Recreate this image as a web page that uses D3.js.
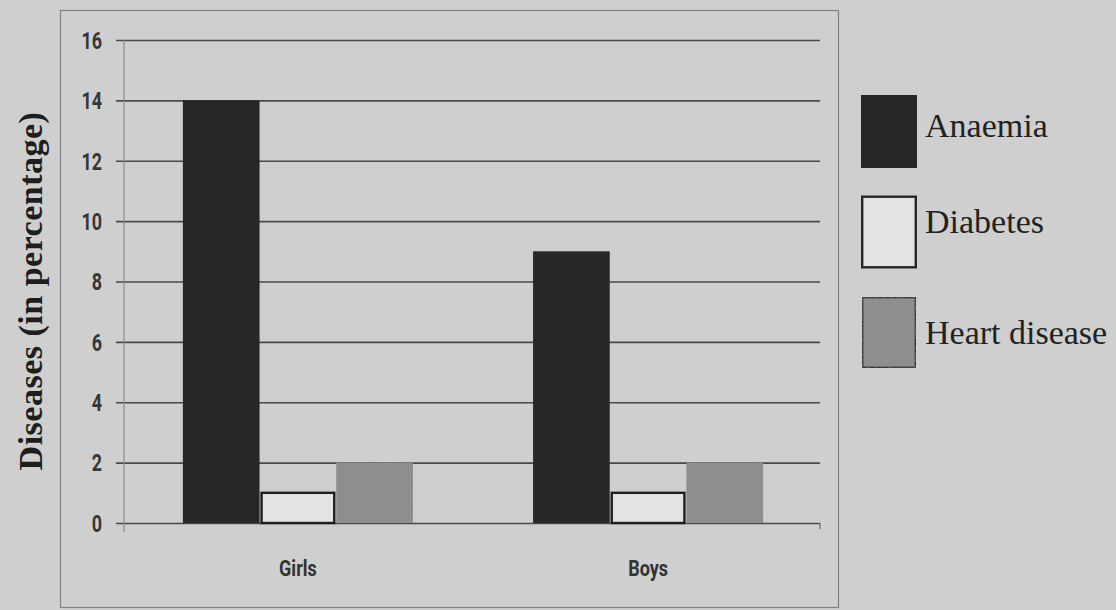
<!DOCTYPE html>
<html>
<head>
<meta charset="utf-8">
<script src="https://cdn.jsdelivr.net/npm/d3@7"></script>
<style>
  html, body { margin: 0; padding: 0; background: #cfcfcf; }
  svg { display: block; }
</style>
</head>
<body>
<svg id="chart" width="1116" height="610"></svg>
<script>
// ---- data ----
const categories = ["Girls", "Boys"];
const seriesNames = ["Anaemia", "Diabetes", "Heart disease"];
const anaemia = [14, 9];
const diabetes = [1, 1];
const heartDisease = [2, 2];
const yTicks = [0, 2, 4, 6, 8, 10, 12, 14, 16];
const yTitle = "Diseases (in percentage)";

const seriesValues = [anaemia, diabetes, heartDisease];
const table = categories.map((c, i) => ({
  category: c,
  values: seriesNames.map((s, j) => ({ series: s, value: seriesValues[j][i] }))
}));

// ---- styles ----
const fills = { "Anaemia": "#272727", "Diabetes": "#e3e3e3", "Heart disease": "#8d8d8d" };
const strokes = { "Anaemia": "none", "Diabetes": "#1e1e1e", "Heart disease": "none" };

const svg = d3.select("#chart");
const W = 1116, H = 610;

// background
svg.append("rect").attr("width", W).attr("height", H).attr("fill", "#cfcfcf");

// speckle filter for heart disease
const defs = svg.append("defs");
const f = defs.append("filter").attr("id", "speckle").attr("x", 0).attr("y", 0).attr("width", 1).attr("height", 1);
f.append("feTurbulence").attr("type", "fractalNoise").attr("baseFrequency", 0.9).attr("numOctaves", 1).attr("seed", 3).attr("result", "noise");
f.append("feColorMatrix").attr("in", "noise").attr("type", "matrix")
  .attr("values", "0 0 0 0 0.3  0 0 0 0 0.3  0 0 0 0 0.3  0 0 0 1.2 -0.45").attr("result", "dots");
f.append("feComposite").attr("in", "dots").attr("in2", "SourceGraphic").attr("operator", "in").attr("result", "dots2");
const fm = f.append("feMerge");
fm.append("feMergeNode").attr("in", "SourceGraphic");
fm.append("feMergeNode").attr("in", "dots2");

// outer chart frame
svg.append("rect")
  .attr("x", 60.5).attr("y", 10.5).attr("width", 778).attr("height", 597)
  .attr("fill", "none").attr("stroke", "#808080").attr("stroke-width", 1.2);

// scales
const x0 = d3.scaleBand().domain(categories).range([123, 823]).paddingInner(0.343).paddingOuter(0.171);
const x1 = d3.scaleBand().domain(seriesNames).range([0, x0.bandwidth()]).padding(0);
const y = d3.scaleLinear().domain([0, 16]).range([523, 40]);

// gridlines via axis
const grid = svg.append("g").attr("transform", "translate(820,0)")
  .call(d3.axisLeft(y).tickValues(yTicks).tickSize(704).tickFormat(""));
grid.select(".domain").remove();
grid.selectAll(".tick line").attr("stroke", "#4a4a4a").attr("stroke-width", 1.6);

// y axis line
svg.append("line").attr("x1", 124).attr("x2", 124).attr("y1", 40).attr("y2", 532)
  .attr("stroke", "#8a8a8a").attr("stroke-width", 1.2);
// right end tick of category axis
svg.append("line").attr("x1", 820).attr("x2", 820).attr("y1", y(0)).attr("y2", y(0) + 6)
  .attr("stroke", "#6a6a6a").attr("stroke-width", 1.2);

// y tick labels
const yAx = svg.append("g").attr("transform", "translate(102,0)")
  .call(d3.axisLeft(y).tickValues(yTicks).tickSize(0).tickPadding(0));
yAx.select(".domain").remove();
yAx.selectAll(".tick text")
  .attr("font-family", "Roboto, 'DejaVu Sans', sans-serif")
  .attr("font-size", 23).attr("font-weight", "bold").attr("fill", "#363636")
  .attr("text-anchor", "end")
  .attr("dy", "0.36em")
  .attr("transform", "scale(0.78,1)")
  .attr("x", 0);

// bars
const groups = svg.append("g").selectAll("g").data(table).join("g")
  .attr("transform", d => `translate(${x0(d.category)},0)`);
groups.selectAll("rect").data(d => d.values).join("rect")
  .attr("x", d => x1(d.series) + (d.series === "Diabetes" ? 2 : 0))
  .attr("y", d => y(d.value))
  .attr("width", d => x1.bandwidth() - (d.series === "Diabetes" ? 4 : 0))
  .attr("height", d => y(0) - y(d.value))
  .attr("fill", d => fills[d.series])
  .attr("stroke", d => strokes[d.series])
  .attr("stroke-width", 2.4)
  .attr("filter", d => d.series === "Heart disease" ? "url(#speckle)" : null);

// category labels
const xAx = svg.append("g").attr("transform", "translate(0,568)");
xAx.selectAll("text").data(categories).join("text")
  .attr("transform", d => `translate(${x0(d) + x0.bandwidth() / 2},0) scale(0.82,1)`)
  .attr("text-anchor", "middle").attr("dy", "0.36em")
  .attr("font-family", "Roboto, 'DejaVu Sans', sans-serif")
  .attr("font-size", 22).attr("font-weight", "bold").attr("fill", "#333")
  .text(d => d);

// y title
svg.append("text")
  .attr("transform", `translate(42,${(115 + 467) / 2}) rotate(-90)`)
  .attr("text-anchor", "middle")
  .attr("font-family", "'Liberation Serif', 'Times New Roman', serif")
  .attr("font-weight", "bold").attr("font-size", 34).attr("fill", "#1e1e1e")
  .attr("letter-spacing", 0.5)
  .text(yTitle);

// legend
const legend = svg.append("g").attr("transform", "translate(861,95)");
const li = legend.selectAll("g").data(seriesNames).join("g")
  .attr("transform", (d, i) => `translate(0,${i * 100.5})`);
li.append("rect")
  .attr("x", d => d === "Anaemia" ? 0 : 1.2).attr("y", d => d === "Anaemia" ? 0 : 1.2)
  .attr("width", d => d === "Anaemia" ? 56 : 53.6).attr("height", d => d === "Anaemia" ? 73 : 70.6)
  .attr("fill", d => fills[d])
  .attr("stroke", d => d === "Anaemia" ? "none" : "#262626").attr("stroke-width", 2.4)
  .attr("filter", d => d === "Heart disease" ? "url(#speckle)" : null);
li.append("text")
  .attr("x", 64).attr("y", (d, i) => [42, 37, 48][i])
  .attr("font-family", "'Liberation Serif', 'Times New Roman', serif")
  .attr("font-size", 34).attr("fill", "#222")
  .text(d => d);
</script>
</body>
</html>
